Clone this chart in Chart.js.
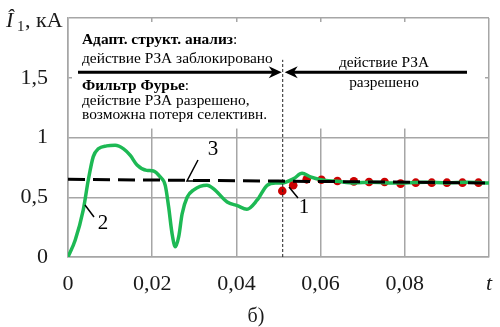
<!DOCTYPE html>
<html>
<head>
<meta charset="utf-8">
<script src="https://cdn.jsdelivr.net/npm/chart.js@4/dist/chart.umd.min.js"></script>
<style>
  body { margin: 0; background: #fff; }
</style>
</head>
<body>
<canvas id="chart" width="500" height="327"></canvas>
<script>
// curve 2 - Fourier filter output, kA
const greenT = [0, 0.0017, 0.0036, 0.0048, 0.006, 0.0072, 0.0092, 0.0112, 0.0132, 0.0148,
  0.0164, 0.0187, 0.0203, 0.0219, 0.0231, 0.0239, 0.0247, 0.0255, 0.0263, 0.0271,
  0.0283, 0.0298, 0.033, 0.0346, 0.0378, 0.0402, 0.0425, 0.0449, 0.0473, 0.0493,
  0.0509, 0.0536, 0.0556, 0.0576, 0.06, 0.064, 0.068, 0.072, 0.076, 0.08,
  0.085, 0.09, 0.095, 0.1];
const greenI = [0, 0.14, 0.39, 0.64, 0.84, 0.905, 0.93, 0.935, 0.905, 0.85,
  0.77, 0.725, 0.72, 0.67, 0.6, 0.42, 0.2, 0.085, 0.17, 0.36,
  0.5, 0.56, 0.6, 0.57, 0.46, 0.43, 0.4, 0.475, 0.6, 0.62,
  0.62, 0.656, 0.7, 0.67, 0.647, 0.633, 0.62, 0.625, 0.62, 0.62,
  0.625, 0.62, 0.625, 0.62];

// curve 1 - adaptive structural analysis (dots)
const redT = [0.0509, 0.0535, 0.0567, 0.0602, 0.064, 0.0679, 0.0715, 0.0752, 0.079,
  0.0826, 0.0864, 0.09, 0.0937, 0.0975];
const redI = [0.553, 0.6, 0.65, 0.647, 0.636, 0.633, 0.628, 0.628, 0.614,
  0.622, 0.622, 0.622, 0.622, 0.622];

// curve 3 - steady state amplitude
const dashT = [0, 0.05, 0.1];
const dashI = [0.65, 0.635, 0.62];

// moment when protection gets unblocked
const switchT = 0.051;
const switchTop = 1.65;

const xTicks = [0, 0.02, 0.04, 0.06, 0.08, 0.1];
const xTickLabels = ['0', '0,02', '0,04', '0,06', '0,08', ''];
const yTicks = [0, 0.5, 1, 1.5, 2];
const yTickLabels = ['0', '0,5', '1', '1,5', ''];

const pts = (xs, ys) => xs.map((x, i) => ({ x: x, y: ys[i] }));

const SERIF = "'Liberation Serif', 'DejaVu Serif', serif";
const GRID = '#a6a6a6';

function arrowHead(ctx, x, y, dir) {
  // dir = 1 points right, -1 points left
  ctx.beginPath();
  ctx.moveTo(x, y);
  ctx.lineTo(x - dir * 13, y - 6);
  ctx.lineTo(x - dir * 9, y);
  ctx.lineTo(x - dir * 13, y + 6);
  ctx.closePath();
  ctx.fill();
}

const annotations = {
  id: 'annotations',
  beforeDatasetsDraw(chart) {
    const { ctx, chartArea: a, scales } = chart;
    // clear grid above the work area, keep small stubs at the frame
    const yb = scales.y.getPixelForValue(1.075);
    ctx.save();
    ctx.fillStyle = '#fff';
    ctx.fillRect(a.left + 4, a.top + 4, a.right - a.left - 8, yb - a.top - 4);
    ctx.restore();
  },
  afterDatasetsDraw(chart) {
    const { ctx, chartArea: a, scales } = chart;
    const xs = scales.x, ys = scales.y;
    const xSw = xs.getPixelForValue(switchT);
    const yArr = ys.getPixelForValue(1.545);
    ctx.save();
    ctx.fillStyle = '#000';
    ctx.strokeStyle = '#000';

    // arrows
    ctx.lineWidth = 3;
    ctx.beginPath();
    ctx.moveTo(a.left + 10, yArr);
    ctx.lineTo(xSw - 6, yArr);
    ctx.moveTo(xSw + 8, yArr);
    ctx.lineTo(a.right - 22, yArr);
    ctx.stroke();
    arrowHead(ctx, xSw - 1, yArr, 1);
    arrowHead(ctx, xSw + 2, yArr, -1);

    // box text
    ctx.textBaseline = 'middle';
    ctx.textAlign = 'left';
    const tx = a.left + 14;
    const fs = 15.4;
    function mixed(bold, rest, y) {
      ctx.font = 'bold ' + fs + 'px ' + SERIF;
      ctx.fillText(bold, tx, y);
      const w = ctx.measureText(bold).width;
      ctx.font = fs + 'px ' + SERIF;
      ctx.fillText(rest, tx + w, y);
    }
    mixed('Адапт. структ. анализ', ':', 40);
    ctx.font = fs + 'px ' + SERIF;
    ctx.fillText('действие РЗА заблокировано', tx, 59);
    mixed('Фильтр Фурье', ':', 86);
    ctx.font = fs + 'px ' + SERIF;
    ctx.fillText('действие РЗА разрешено,', tx, 101);
    ctx.fillText('возможна потеря селективн.', tx, 115);
    ctx.textAlign = 'center';
    ctx.fillText('действие РЗА', 384, 63);
    ctx.fillText('разрешено', 384, 83);

    // curve labels with leaders
    ctx.lineWidth = 1.5;
    ctx.beginPath();
    ctx.moveTo(289, 187); ctx.lineTo(298, 198);
    ctx.moveTo(85, 205); ctx.lineTo(94, 217);
    ctx.moveTo(198, 160); ctx.lineTo(187, 181); ctx.lineTo(203, 181);
    ctx.stroke();
    ctx.font = '21px ' + SERIF;
    ctx.fillText('1', 304, 207);
    ctx.fillText('2', 103, 223);
    ctx.fillText('3', 213, 149);
    ctx.restore();
  },
  afterDraw(chart) {
    const { ctx } = chart;
    ctx.save();
    ctx.fillStyle = '#1a1a1a';
    ctx.textBaseline = 'alphabetic';
    ctx.textAlign = 'left';
    // axis title: I-hat sub 1, kA
    ctx.font = 'italic 22px ' + SERIF;
    ctx.fillText('Î', 6, 27);
    ctx.font = '15px ' + SERIF;
    ctx.fillText('1', 17, 31);
    ctx.font = '22px ' + SERIF;
    ctx.fillText(', кА', 25, 27);
    ctx.font = 'italic 22px ' + SERIF;
    ctx.fillText('t', 486, 290);
    ctx.font = '20px ' + SERIF;
    ctx.textAlign = 'center';
    ctx.fillText('б)', 256, 322);
    ctx.restore();
  }
};

function noPad(s) {
  s.paddingTop = 0;
  s.paddingBottom = 0;
  s.paddingLeft = 0;
  s.paddingRight = 0;
}

new Chart(document.getElementById('chart'), {
  type: 'scatter',
  data: {
    datasets: [
      {
        label: '3',
        data: pts(dashT, dashI),
        showLine: true,
        borderColor: '#000',
        borderWidth: 3,
        borderDash: [17, 8],
        pointRadius: 0
      },
      {
        label: 'switch',
        data: pts([switchT, switchT], [0, switchTop]),
        showLine: true,
        borderColor: '#222',
        borderWidth: 1,
        borderDash: [3, 2],
        pointRadius: 0
      },
      {
        label: '2',
        data: pts(greenT, greenI),
        showLine: true,
        borderColor: '#1db954',
        borderWidth: 3.5,
        cubicInterpolationMode: 'monotone',
        pointRadius: 0
      },
      {
        label: '1',
        data: pts(redT, redI),
        showLine: false,
        backgroundColor: '#cc0000',
        borderColor: '#cc0000',
        pointRadius: 4.3,
        borderWidth: 0
      }
    ]
  },
  options: {
    responsive: false,
    animation: false,
    layout: { padding: { top: 18, right: 11, left: 0, bottom: 0 } },
    plugins: { legend: { display: false }, tooltip: { enabled: false } },
    scales: {
      x: {
        type: 'linear',
        min: 0,
        max: 0.1,
        afterBuildTicks: s => { s.ticks = xTicks.map(v => ({ value: v })); },
        afterFit: s => { s.height = 70; noPad(s); },
        ticks: {
          padding: 14,
          color: '#1a1a1a',
          font: { family: SERIF, size: 22 },
          callback: (v, i) => xTickLabels[i]
        },
        grid: { color: GRID, lineWidth: 1.5, drawTicks: false },
        border: { color: GRID, width: 1.5 }
      },
      y: {
        min: 0,
        max: 2,
        afterBuildTicks: s => { s.ticks = yTicks.map(v => ({ value: v })); },
        afterFit: s => { s.width = 68; noPad(s); },
        ticks: {
          padding: 20,
          color: '#1a1a1a',
          font: { family: SERIF, size: 22 },
          callback: (v, i) => yTickLabels[i]
        },
        grid: { color: GRID, lineWidth: 1.5, drawTicks: false },
        border: { color: GRID, width: 1.5 }
      }
    }
  },
  plugins: [annotations]
});
</script>
</body>
</html>
